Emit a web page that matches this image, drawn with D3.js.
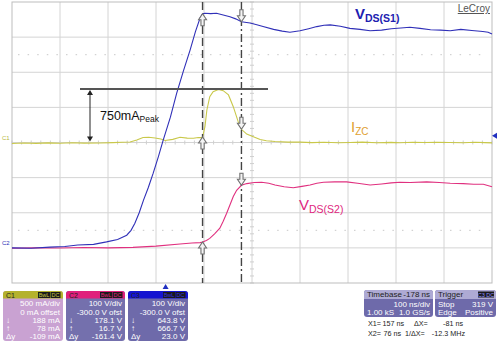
<!DOCTYPE html>
<html><head><meta charset="utf-8">
<script src="https://cdn.jsdelivr.net/npm/d3@7"></script>
<style>html,body{margin:0;padding:0;background:#fff;}svg{display:block;font-family:"Liberation Sans",Arial,sans-serif;}</style>
</head><body><svg id="c" width="499" height="342"></svg>
<script>
// ---- data (time in ns from left edge of screen, 100 ns/div) ----
const vds1T = [0,40,79,110,137,170,197,220,239,248,256,265,274,284,294,305,315,330,343,357,371,382,392,397,402,414,426,440,454,466,478,496,510,523,545,563,579,600,618,635,650,663,684,704,725,746,770,790,810,829,850,872,893,913,935,958,981,992,1000];
const vds1V = [0,-1,2,4,8,10,17,24,36,50,70,100,136,172,212,260,307,372,440,503,563,615,655,666.7,668,667,668,663,658,652,643.8,640,635,630,622,617,614,618,624,630,634,635,631,625,622,618,620,624,626,628,625,621,620,618,622,619,616,614,609];
const vds2T = [0,50,100,150,200,252,300,350,375,392,397,405,412,422,433,440,447,454,461,468,478,489,505,520,535,548,567,586,604,621,635,649,672,697,720,746,770,790,808,830,864,890,913,940,962,982,1000];
const vds2V = [-1,0,-0.5,1,0,1.4,5,11,14,15,16.7,21,27,40,56,76,98,122,146,164,178.1,183,186,187,184,179,174,171,175,179,184,187,188,188,184,179,182,185,187,186,188,186,184,183,181,181,174];
const izcT = [0,25,50,75,100,125,150,183,210,230,246,260,273,285,298,310,319,335,350,365,378,388,395,397,402,406,412,419,430,440,451,461,471,478,489,499,517,530,548,575,600,625,650,680,704,730,760,790,808,835,860,885,912,940,965,985,1000];
const izcI = [-14,-8,-12,-6,-11,-4,-9,-7,-2,3,7,35,71,75,64,50,28,45,74,62,60,72,70,78,225,463,652,724,755,738,677,510,300,188,120,93,43,25,14,5,6,-2,3,-4,0,6,-3,2,-3,4,-1,2,0,-3,3,-2,-5];
const cursorT = [397, 478];          // X1, X2
const curVds1 = [666.7, 643.8];
const curVds2 = [16.7, 178.1];
const curIzc = [78, 188];
const peakI = 762;                   // level of the 750 mA peak marker line
const ch1Rows = ["500 mA/div","0 mA offset","188 mA","78 mA","-109 mA"];
const ch2Rows = ["100 V/div","-300.0 V ofst","178.1 V","16.7 V","-161.4 V"];
const ch3Rows = ["100 V/div","-300.0 V ofst","643.8 V","666.7 V","23.0 V"];
const rowLabels = ["","","\u2193","\u2191","\u0394y"];
const trigLevelV = 319;
const trigT = 320;

// ---- scales ----
const L=12,R=492,T=2,B=283;
const x = d3.scaleLinear([0,1000],[L,R]);
const yV = d3.scaleLinear([-100,700],[B,T]);
const yI = d3.scaleLinear([-2000,2000],[B,T]);
const svg = d3.select("#c");

// ---- grid ----
const g = svg.append("g");
g.selectAll(".vg").data(d3.range(100,1000,100)).join("line")
 .attr("x1",d=>x(d)).attr("x2",d=>x(d)).attr("y1",T).attr("y2",B)
 .attr("stroke","#d4d4d4").attr("stroke-width",1);
g.selectAll(".hg").data(d3.range(0,700,100)).join("line")
 .attr("y1",d=>yV(d)).attr("y2",d=>yV(d)).attr("x1",L).attr("x2",R)
 .attr("stroke","#d4d4d4").attr("stroke-width",1);
g.selectAll(".dg").data([550,50]).join("line")
 .attr("y1",d=>yV(d)).attr("y2",d=>yV(d)).attr("x1",L+6).attr("x2",R-6)
 .attr("stroke","#c8c8c8").attr("stroke-width",1).attr("stroke-dasharray","1.5,8.1");
// minor ticks on centre axes
const cx = x(500), cy = yV(300);
g.selectAll(".tx").data(d3.range(0,1001,20)).join("line")
 .attr("x1",d=>x(d)).attr("x2",d=>x(d)).attr("y1",cy-2).attr("y2",cy+2).attr("stroke","#cfcfcf");
g.selectAll(".ty").data(d3.range(-100,701,20)).join("line")
 .attr("y1",d=>yV(d)).attr("y2",d=>yV(d)).attr("x1",cx-2).attr("x2",cx+2).attr("stroke","#cfcfcf");
g.append("rect").attr("x",L).attr("y",T).attr("width",R-L).attr("height",B-T)
 .attr("fill","none").attr("stroke","#bdbdbd").attr("stroke-width",1);

// ---- traces ----
const lineV = d3.line().x(d=>x(d[0])).y(d=>yV(d[1]));
const lineI = d3.line().x(d=>x(d[0])).y(d=>yI(d[1]));
svg.append("path").datum(d3.zip(izcT,izcI)).attr("d",lineI).attr("fill","none").attr("stroke","#c9c84a").attr("stroke-width",1.1);
svg.append("path").datum(d3.zip(vds2T,vds2V)).attr("d",lineV).attr("fill","none").attr("stroke","#e0307f").attr("stroke-width",1.1);
svg.append("path").datum(d3.zip(vds1T,vds1V)).attr("d",lineV).attr("fill","none").attr("stroke","#3030b8").attr("stroke-width",1.1);

// ---- cursors ----
svg.append("line").attr("x1",x(cursorT[0])).attr("x2",x(cursorT[0])).attr("y1",T).attr("y2",B)
 .attr("stroke","#444").attr("stroke-width",1.4).attr("stroke-dasharray","8,4");
svg.append("line").attr("x1",x(cursorT[1])).attr("x2",x(cursorT[1])).attr("y1",T).attr("y2",B)
 .attr("stroke","#444").attr("stroke-width",1.4).attr("stroke-dasharray","8,3,2,3");
function arrow(px,py,up){
  const s = up?1:-1;
  const pts=[[0,0],[4,6],[1.6,6],[1.6,12],[-1.6,12],[-1.6,6],[-4,6]].map(p=>[px+p[0],py+s*p[1]]);
  svg.append("polygon").attr("points",pts.map(p=>p.join(",")).join(" "))
   .attr("fill","#f4f4f4").attr("stroke","#707070").attr("stroke-width",1.1);
}
[[curVds1,yV],[curIzc,yI],[curVds2,yV]].forEach(([vals,sc])=>{
  arrow(x(cursorT[0]),sc(vals[0]),true);
  arrow(x(cursorT[1]),sc(vals[1]),false);
});

// ---- peak annotation ----
const py = yI(peakI), by = yI(0);
svg.append("line").attr("x1",80).attr("x2",268).attr("y1",py).attr("y2",py).attr("stroke","#555").attr("stroke-width",2);
svg.append("line").attr("x1",90).attr("x2",90).attr("y1",py+3).attr("y2",by-3).attr("stroke","#222").attr("stroke-width",1);
svg.append("path").attr("d",`M87,${py+6}L90,${py+1}L93,${py+6}Z`).attr("fill","#222");
svg.append("path").attr("d",`M87,${by-6}L90,${by-1}L93,${by-6}Z`).attr("fill","#222");
const t1 = svg.append("text").attr("x",100).attr("y",120).attr("font-size",12.5).attr("fill","#111");
t1.append("tspan").text("750mA");
t1.append("tspan").attr("font-size",8.5).attr("dy",2).text("Peak");

// ---- trace labels ----
function lab(px,py,main,sub,col,bold,fs,sfs){
  const t = svg.append("text").attr("x",px).attr("y",py).attr("fill",col).attr("font-weight",bold?"bold":"normal").attr("font-size",fs);
  t.append("tspan").text(main);
  t.append("tspan").attr("font-size",sfs).attr("dy",3).text(sub);
}
lab(355,19,"V","DS(S1)","#2020b0",true,15,10.5);
lab(351,132,"I","ZC","#e0a030",false,15,10);
lab(299,210,"V","DS(S2)","#e0267e",false,15,10.5);
svg.append("text").attr("x",490).attr("y",12).attr("text-anchor","end").attr("font-size",10).attr("fill","#555").attr("text-decoration","underline").text("LeCroy");

// side markers
svg.append("text").attr("x",2).attr("y",140).attr("font-size",6).attr("fill","#b8b840").text("C1");
svg.append("text").attr("x",2).attr("y",245).attr("font-size",6).attr("fill","#3030b8").text("C2");
svg.append("path").attr("d",`M${R+5},${yV(trigLevelV)-3}L${R},${yV(trigLevelV)}L${R+5},${yV(trigLevelV)+3}Z`).attr("fill","#2030c0");
svg.append("path").attr("d",`M${x(trigT)-3},${B+6}L${x(trigT)},${B+1}L${x(trigT)+3},${B+6}Z`).attr("fill","#2030c0");

// ---- channel boxes ----
function chBox(bx,w,headCol,bodyCol,label,rows,badgeCol){
  const by=291,h=50;
  const gg = svg.append("g");
  gg.append("rect").attr("x",bx).attr("y",by).attr("width",w).attr("height",h).attr("rx",3).attr("fill",bodyCol);
  gg.append("path").attr("d",`M${bx},${by+7.5}V${by+3}Q${bx},${by} ${bx+3},${by}H${bx+w-3}Q${bx+w},${by} ${bx+w},${by+3}V${by+7.5}Z`).attr("fill",headCol);
  gg.append("text").attr("x",bx+3).attr("y",by+6.5).attr("font-size",7).attr("fill","#222").text(label);
  [["BwL",bx+w-25,12],["DC",bx+w-12.5,10]].forEach(([s,xx,ww])=>{
    gg.append("rect").attr("x",xx).attr("y",by+1).attr("width",ww).attr("height",6).attr("fill","#1a1a1a");
    gg.append("text").attr("x",xx+ww/2).attr("y",by+6).attr("text-anchor","middle").attr("font-size",5.5).attr("fill",badgeCol).text(s);
  });
  const ys=[306,314.5,322.5,330.5,338.5];
  rows.forEach((r,i)=>{
    gg.append("text").attr("x",bx+w-3).attr("y",ys[i]).attr("text-anchor","end").attr("font-size",8).attr("fill","#fff").text(r);
    if(rowLabels[i]) gg.append("text").attr("x",bx+3).attr("y",ys[i]).attr("font-size",8).attr("fill","#fff").text(rowLabels[i]);
  });
}
chBox(3,60,"#b4b22c","#c9a2d2","C1",ch1Rows,"#c8c640");
chBox(66,59,"#e0207c","#7470ad","C2",ch2Rows,"#e0207c");
chBox(128,60,"#1414d0","#6e6aaa","C3",ch3Rows,"#3030e0");

// ---- timebase / trigger ----
function infoBox(bx,w,hl,hr,rowsL,rowsR,badge){
  const by=290,h=27;
  const gg=svg.append("g");
  gg.append("rect").attr("x",bx).attr("y",by).attr("width",w).attr("height",h).attr("rx",3).attr("fill","#6e6aaa");
  gg.append("path").attr("d",`M${bx},${by+9}V${by+3}Q${bx},${by} ${bx+3},${by}H${bx+w-3}Q${bx+w},${by} ${bx+w},${by+3}V${by+9}Z`).attr("fill","#aeaad4");
  gg.append("text").attr("x",bx+3).attr("y",by+7).attr("font-size",8).attr("fill","#222").text(hl);
  if(hr) gg.append("text").attr("x",bx+w-3).attr("y",by+7).attr("text-anchor","end").attr("font-size",8).attr("fill","#222").text(hr);
  if(badge){
    gg.append("rect").attr("x",bx+w-18).attr("y",by+1.5).attr("width",16).attr("height",6).attr("fill","#1a1a1a");
    gg.append("text").attr("x",bx+w-10).attr("y",by+6.5).attr("text-anchor","middle").attr("font-size",5.5).attr("fill","#9090ff").text(badge);
  }
  const ys=[by+17,by+24.5];
  rowsL.forEach((s,i)=>{ if(s) gg.append("text").attr("x",bx+3).attr("y",ys[i]).attr("font-size",8).attr("fill","#fff").text(s);});
  rowsR.forEach((s,i)=>{ if(s) gg.append("text").attr("x",bx+w-3).attr("y",ys[i]).attr("text-anchor","end").attr("font-size",8).attr("fill","#fff").text(s);});
}
infoBox(364,69,"Timebase","-178 ns",["","1.00 kS"],["100 ns/div","1.0 GS/s"],null);
infoBox(435,61,"Trigger",null,["Stop","Edge"],["319 V","Positive"],"C3 DC");

const mt=[["X1=",368,325.5,"start"],["157 ns",404,325.5,"end"],["\u0394X=",414,325.5,"start"],["-81 ns",463,325.5,"end"],
          ["X2=",368,335.5,"start"],["76 ns",401,335.5,"end"],["1/\u0394X=",405,335.5,"start"],["-12.3 MHz",465,335.5,"end"]];
mt.forEach(([s,xx,yy,a])=>svg.append("text").attr("x",xx).attr("y",yy).attr("text-anchor",a).attr("font-size",7.2).attr("fill","#222").text(s));
</script></body></html>
